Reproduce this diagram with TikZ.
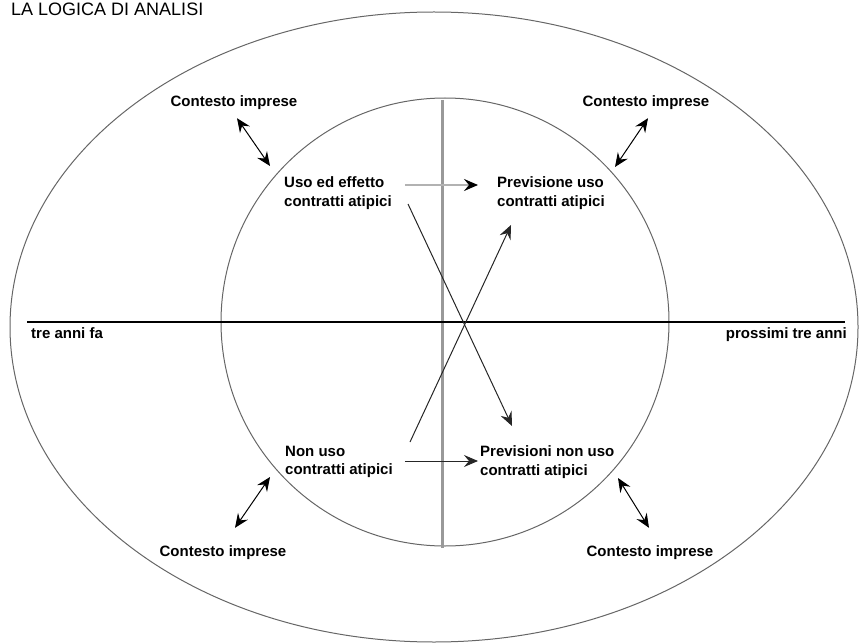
\documentclass[tikz,border=0pt]{standalone}
\usepackage{fontspec}
\setmainfont{Liberation Sans}
\usetikzlibrary{arrows.meta}
\usetikzlibrary{calc}
\usetikzlibrary{positioning}

\begin{document}
\begin{tikzpicture}[
      x=1pt, y=-1pt,
      heading/.style={font=\fontsize{18}{22}\selectfont, inner sep=0pt, anchor=base west},
      caption/.style={font=\fontsize{15}{18.5}\selectfont\bfseries, inner sep=0pt, align=left},
      context/.style={caption},
      ring/.style={line width=1pt, black!60},
      timeline/.style={line width=1.6pt},
      divider/.style={line width=3pt, black!40},
      flow/.style={->, line width=1pt, black!85},
      softflow/.style={-{Stealth[length=14pt, width=12pt, inset=5pt, black]}, line width=2pt, black!30},
      link/.style={<->, line width=1pt},
      >={Stealth[length=14pt, width=12pt, inset=5pt]}
    ]
      \useasboundingbox (0,0) rectangle (866,644);

      % rings and axes
      \draw [ring] (434,327) ellipse [x radius=424, y radius=315];
      \draw [ring] (445,322) circle [radius=224];
      \coordinate (top) at (442,100);
      \coordinate (bottom) at (442,548);
      \draw [divider] (top) -- (bottom);
      \coordinate (left) at (27,322);
      \coordinate (right) at (845,322);
      \draw [timeline] (left) -- (right);

      \node [heading] (title) at (11,16) {LA LOGICA DI ANALISI};
      \node [caption, anchor=north west] (past) at (31,327) {tre anni fa};
      \node [caption, anchor=north east] (future) at (847,327) {prossimi tre anni};

      % the four situations
      \node [caption, anchor=west] (uso) at (284,193) {Uso ed effetto\\contratti atipici};
      \node [caption, anchor=west] (prev) at (497,193) {Previsione uso\\contratti atipici};
      \node [caption, anchor=west] (nonuso) at (285,462) {Non uso\\contratti atipici};
      \node [caption, anchor=west] (prevnon) at (480,462) {Previsioni non uso\\contratti atipici};

      \node [context] (ctxTL) at (234,103) {Contesto imprese};
      \node [context] (ctxTR) at (646,103) {Contesto imprese};
      \node [context] (ctxBL) at (223,553) {Contesto imprese};
      \node [context] (ctxBR) at (650,553) {Contesto imprese};

      % arrows
      \draw [softflow] ($(uso.east)+(13,-8)$) -- ($(prev.west)+(-19,-8)$);
      \draw [flow] ($(nonuso.east)+(12,-1)$) -- ($(prevnon.west)+(-2,-1)$);
      \coordinate (riseA) at (410,442);
      \coordinate (riseB) at (511,225);
      \draw [flow] (riseA) -- (riseB);
      \coordinate (fallA) at (408,204);
      \coordinate (fallB) at (512,426);
      \draw [flow] (fallA) -- (fallB);

      \draw [link] ($(ctxTL.south)+(3,8)$) -- (270,166);
      \draw [link] ($(ctxTR.south)+(2,8)$) -- (615,167);
      \draw [link] (270,477) -- ($(ctxBL.north)+(12,-18)$);
      \draw [link] (618,478) -- ($(ctxBR.north)+(-1,-18)$);
    \end{tikzpicture}
\end{document}
